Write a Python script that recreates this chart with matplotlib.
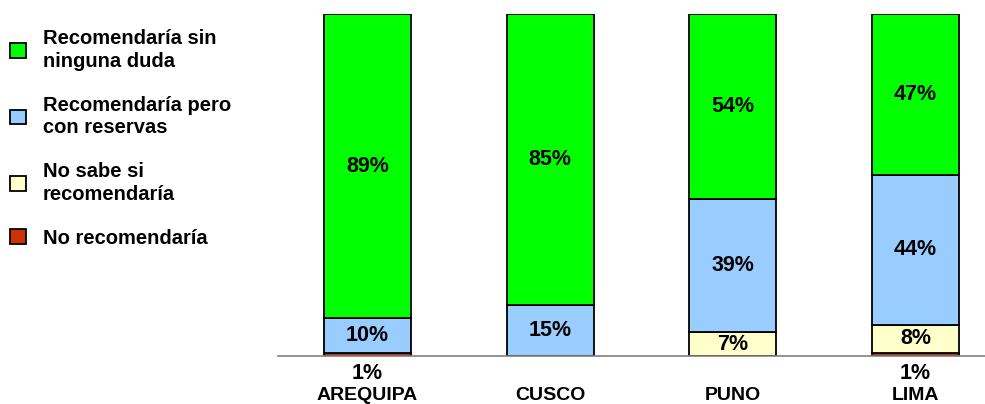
import numpy as np
import matplotlib.pyplot as plt

plt.rcParams['font.family'] = ['Liberation Sans', 'DejaVu Sans']

ciudades = ["AREQUIPA", "CUSCO", "PUNO", "LIMA"]
no_recomendaria = [1, 0, 0, 1]
no_sabe = [0, 0, 7, 8]
con_reservas = [10, 15, 39, 44]
sin_duda = [89, 85, 54, 47]

series = [
    ("No recomendaría", no_recomendaria, "#CC3300"),
    ("No sabe si\nrecomendaría", no_sabe, "#FFFFCC"),
    ("Recomendaría pero\ncon reservas", con_reservas, "#99CCFF"),
    ("Recomendaría sin\nninguna duda", sin_duda, "#00FF00"),
]

fig = plt.figure(figsize=(9.85, 4.04), dpi=100)
ax = fig.add_axes([278 / 985, 48 / 404, 707 / 985, 342 / 404])

x = np.arange(len(ciudades))
bottom = np.zeros(len(ciudades))
handles = []
for nombre, vals, color in series:
    vals = np.array(vals, dtype=float)
    b = ax.bar(x, vals, 0.476, bottom=bottom, color=color,
               edgecolor="black", linewidth=1.3, label=nombre)
    handles.append(b)
    for xi, v, b0 in zip(x, vals, bottom):
        if v <= 0:
            continue
        if v < 3:
            # etiquetas pequeñas debajo del eje
            ax.text(xi, -5, f"{int(v)}%", ha="center", va="center",
                    fontsize=15.5, fontweight="bold", clip_on=False)
        else:
            ax.text(xi, b0 + v / 2, f"{int(v)}%", ha="center", va="center",
                    fontsize=15.5, fontweight="bold")
    bottom += vals

ax.set_xlim(-0.49, 3.38)
ax.set_ylim(0, 100)
ax.set_yticks([])
ax.set_xticks(x)
ax.set_xticklabels(ciudades, fontsize=14, fontweight="bold")
ax.tick_params(axis="x", length=0, pad=22)
for s in ["top", "right", "left"]:
    ax.spines[s].set_visible(False)
ax.spines["bottom"].set_color("#808080")
ax.spines["bottom"].set_linewidth(1.2)

leg = fig.legend(handles[::-1], [s[0] for s in series][::-1],
                 loc="upper left", bbox_to_anchor=(10 / 985, 1 - 29 / 404),
                 frameon=False, prop={"weight": "bold", "size": 14.5},
                 handlelength=0.78, handleheight=0.72, handletextpad=0.85,
                 labelspacing=1.23, borderpad=0, borderaxespad=0)
for t in leg.get_texts():
    t.set_linespacing(1.25)

fig.savefig("out.png", dpi=100)
